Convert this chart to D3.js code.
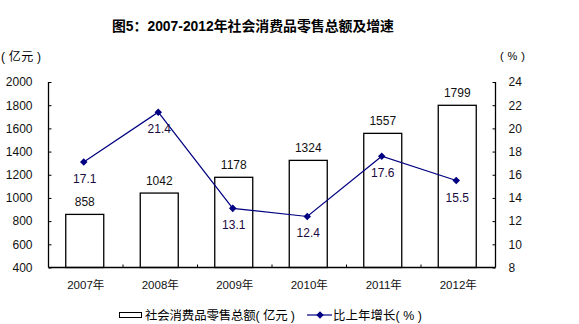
<!DOCTYPE html>
<html><head><meta charset="utf-8">
<script src="https://cdn.jsdelivr.net/npm/d3@7"></script>
<style>
body{margin:0;background:#fff;}
text{font-family:Arial,"Liberation Sans","Noto Sans CJK SC",sans-serif;}
</style></head>
<body><svg id="c" width="579" height="324"></svg>
<script>
const categories = ["2007年","2008年","2009年","2010年","2011年","2012年"];
const totals = [858,1042,1178,1324,1557,1799];
const growth = [17.1,21.4,13.1,12.4,17.6,15.5];
const leftTicks = [400,600,800,1000,1200,1400,1600,1800,2000];
const rightTicks = [8,10,12,14,16,18,20,22,24];

const svg = d3.select("#c");
const L = 48.5, R = 495.5, T = 82, B = 267.5;
const x = d3.scaleBand().domain(categories).range([L, R]).padding(0);
const yL = d3.scaleLinear().domain([400,2000]).range([B, T]);
const yR = d3.scaleLinear().domain([8,24]).range([B, T]);
const cjk = 'Arial,"Noto Sans CJK SC",sans-serif';

svg.append("text").attr("x",253).attr("y",31).attr("text-anchor","middle")
  .attr("font-size",14).attr("font-weight","bold").attr("textLength",282).attr("lengthAdjust","spacingAndGlyphs")
  .style("font-family",'"Liberation Sans","Noto Sans CJK SC",sans-serif')
  .text("图5：2007-2012年社会消费品零售总额及增速");

svg.append("text").attr("x",1).attr("y",61).attr("font-size",12).style("font-family",cjk).text("( 亿元 )").attr("textLength",40);
svg.append("text").attr("x",500).attr("y",60).attr("font-size",11).style("font-family",cjk).text("( % )").attr("textLength",25);

// bars
const bw = 38;
svg.selectAll("rect.bar").data(totals).join("rect").attr("class","bar")
  .attr("x",(d,i)=>x(categories[i])+x.bandwidth()/2-bw/2-1).attr("width",bw)
  .attr("y",d=>yL(d)).attr("height",d=>B-yL(d))
  .attr("fill","#fff").attr("stroke","#000").attr("stroke-width",1.3);

svg.selectAll("text.bl").data(totals).join("text").attr("class","bl")
  .attr("x",(d,i)=>x(categories[i])+x.bandwidth()/2-1).attr("y",d=>yL(d)-8)
  .attr("text-anchor","middle").attr("font-size",12).attr("fill","#111").text(d=>d);

// axes
const axL = d3.axisLeft(yL).tickValues(leftTicks).tickSize(-3).tickPadding(16).tickFormat(d3.format("d"));
const gL = svg.append("g").attr("transform",`translate(${L},0)`).call(axL);
const axR = d3.axisRight(yR).tickValues(rightTicks).tickSize(-3).tickPadding(13).tickFormat(d3.format("d"));
const gR = svg.append("g").attr("transform",`translate(${R},0)`).call(axR);
const axB = d3.axisBottom(x).tickSize(0).tickPadding(13);
const gB = svg.append("g").attr("transform",`translate(0,${B})`).call(axB);
svg.selectAll("line.xt").data(categories.slice(1)).join("line").attr("class","xt")
  .attr("x1",d=>x(d)).attr("x2",d=>x(d)).attr("y1",B).attr("y2",B-3).attr("stroke","#000");
[gL,gR,gB].forEach(g=>{
  g.select(".domain").attr("stroke","#000").attr("stroke-width",1.3);
  g.selectAll(".tick line").attr("stroke","#000");
  g.selectAll("text").attr("font-size",12).attr("fill","#111").style("font-family",'Arial,"Liberation Sans","Noto Sans CJK SC",sans-serif');
});
gL.select(".domain").attr("d",`M0,${T}V${B}`);
gR.select(".domain").attr("d",`M0,${T}V${B}`);
gB.select(".domain").attr("d",`M${L},0H${R}`);
gB.selectAll("text").attr("font-size",11.5);

// line
const px = i=>x(categories[i])+x.bandwidth()/2-2;
const line = d3.line().x((d,i)=>px(i)).y(d=>yR(d));
svg.append("path").datum(growth).attr("d",line).attr("fill","none").attr("stroke","#000080").attr("stroke-width",1.2);
const sym = d3.symbol().type(d3.symbolDiamond2).size(36);
svg.selectAll("path.pt").data(growth).join("path").attr("class","pt")
  .attr("transform",(d,i)=>`translate(${px(i)},${yR(d)})`).attr("d",sym).attr("fill","#000080");
svg.selectAll("text.gl").data(growth).join("text").attr("class","gl")
  .attr("x",(d,i)=>px(i)+1).attr("y",d=>yR(d)+21)
  .attr("text-anchor","middle").attr("font-size",12).attr("fill","#1a0a40").text(d=>d.toFixed(1));

// legend
svg.append("rect").attr("x",119.5).attr("y",312.5).attr("width",22).attr("height",5)
  .attr("fill","#fff").attr("stroke","#000").attr("stroke-width",1);
svg.append("text").attr("x",145).attr("y",319.5).attr("font-size",12.4).style("font-family",cjk)
  .attr("textLength",150).attr("lengthAdjust","spacing").text("社会消费品零售总额( 亿元 )");
svg.append("line").attr("x1",307).attr("x2",332).attr("y1",315).attr("y2",315).attr("stroke","#000080").attr("stroke-width",1.2);
svg.append("path").attr("transform","translate(320,315)").attr("d",sym).attr("fill","#000080");
svg.append("text").attr("x",333).attr("y",319.5).attr("font-size",12.4).style("font-family",cjk)
  .attr("textLength",89).attr("lengthAdjust","spacing").text("比上年增长( % )");
</script></body></html>
